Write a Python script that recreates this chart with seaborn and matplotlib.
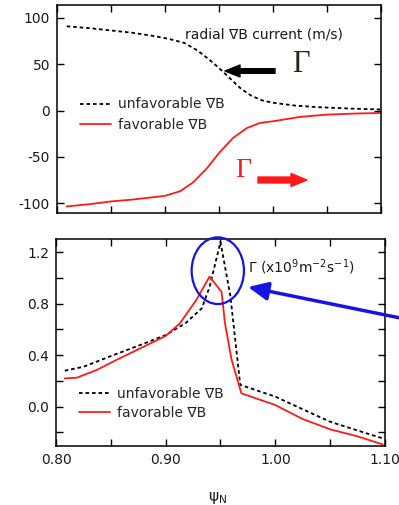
import matplotlib
matplotlib.use("Agg")
import matplotlib.pyplot as plt
from matplotlib.lines import Line2D
from matplotlib.patches import Ellipse
import seaborn as sns
import pandas as pd

# ---------------- data ----------------
# top panel: radial grad-B current (m/s)
psi_t_unfav = [0.809, 0.830, 0.850, 0.870, 0.890, 0.905, 0.918, 0.930, 0.940, 0.950, 0.960,
               0.970, 0.980, 0.990, 1.000, 1.020, 1.040, 1.070, 1.100]
unfav_t = [91, 89, 86.5, 84, 80.5, 77, 73, 65, 56, 46, 35, 24, 16, 11, 8.5, 5.5, 3.8, 2.3, 1.2]
psi_t_fav = [0.809, 0.830, 0.850, 0.870, 0.900, 0.914, 0.926, 0.939, 0.950, 0.963, 0.976,
             0.988, 1.000, 1.025, 1.050, 1.075, 1.100]
fav_t = [-103.4, -101, -98, -96, -92, -87, -77.5, -62, -45.8, -29.5, -18.7,
         -13.3, -11.5, -6.8, -4.3, -3.2, -2.5]

# bottom panel: Gamma (x10^9 m^-2 s^-1)
psi_b_unfav = [0.808, 0.825, 0.849, 0.877, 0.900, 0.918, 0.933, 0.940, 0.950, 0.959, 0.968, 1.000, 1.025, 1.050, 1.075, 1.098]
unfav_b = [0.28, 0.31, 0.39, 0.48, 0.557, 0.648, 0.765, 0.93, 1.28, 0.86, 0.17, 0.078, -0.02, -0.117, -0.185, -0.246]
psi_b_fav = [0.808, 0.819, 0.837, 0.855, 0.877, 0.900, 0.913, 0.928, 0.940, 0.951, 0.954, 0.960, 0.969, 1.000, 1.010, 1.025, 1.050, 1.074, 1.098]
fav_b = [0.22, 0.225, 0.285, 0.363, 0.454, 0.55, 0.648, 0.83, 1.011, 0.892, 0.653, 0.369, 0.104, 0.013, -0.031, -0.096, -0.176, -0.228, -0.293]

series_labels = ["unfavorable \u2207B", "favorable \u2207B"]
top_yticks = [-100, -50, 0, 50, 100]
bot_xticks = [0.80, 0.85, 0.90, 0.95, 1.00, 1.05, 1.10]
bot_xticklabels = ["0.80", "", "0.90", "", "1.00", "", "1.10"]
bot_yticks = [-0.2, 0.0, 0.2, 0.4, 0.6, 0.8, 1.0, 1.2]
bot_yticklabels = ["", "0.0", "", "0.4", "", "0.8", "", "1.2"]

# ---------------- style ----------------
sns.set_theme(style="ticks")
plt.rcParams["font.family"] = ["DejaVu Sans"]
plt.rcParams["axes.linewidth"] = 1.1
plt.rcParams["axes.edgecolor"] = "black"

RED = "#ff1a1a"
DASH = (2.0, 1.6)
LW = 1.3

W, H = 399, 505
fig = plt.figure(figsize=(W / 100, H / 100), dpi=100)
ax1 = fig.add_axes([57 / W, 1 - 213 / H, (381 - 57) / W, (213 - 5) / H])
ax2 = fig.add_axes([56 / W, 1 - 445.7 / H, (385 - 56) / W, (445.7 - 239) / H])

def draw(ax, xu, yu, xf, yf):
    du = pd.DataFrame({"psi": xu, "val": yu})
    df = pd.DataFrame({"psi": xf, "val": yf})
    sns.lineplot(data=du, x="psi", y="val", ax=ax, color="black", lw=LW,
                 dashes=False, errorbar=None)
    ax.lines[-1].set_dashes(DASH)
    sns.lineplot(data=df, x="psi", y="val", ax=ax, color=RED, lw=LW, errorbar=None)
    ax.set_xlabel("")
    ax.set_ylabel("")
    ax.tick_params(direction="in", top=True, right=True, length=5, width=1.0,
                   labelsize=10, labelcolor="#1a1a1a", pad=5, color="black")
    handles = [Line2D([], [], color="black", lw=LW, dashes=DASH),
               Line2D([], [], color=RED, lw=LW)]
    return handles

h = draw(ax1, psi_t_unfav, unfav_t, psi_t_fav, fav_t)
ax1.set_xlim(0.80, 1.10)
ax1.set_ylim(-110.5, 114)
ax1.set_xticks(bot_xticks)
ax1.set_xticklabels([])
ax1.set_yticks(top_yticks)
ax1.set_yticklabels([str(v) for v in top_yticks])
ax1.legend(h, series_labels, loc="center left", bbox_to_anchor=(0.071, 0.4736),
           frameon=False, borderpad=0, borderaxespad=0, handlelength=2.2,
           handletextpad=0.5, labelspacing=0.45, fontsize=10)

h = draw(ax2, psi_b_unfav, unfav_b, psi_b_fav, fav_b)
ax2.set_xlim(0.80, 1.10)
ax2.set_ylim(-0.303, 1.303)
ax2.set_xticks(bot_xticks)
ax2.set_xticklabels(bot_xticklabels)
ax2.set_yticks(bot_yticks)
ax2.set_yticklabels(bot_yticklabels)
ax2.legend(h, series_labels, loc="center left", bbox_to_anchor=(0.070, 0.204),
           frameon=False, borderpad=0, borderaxespad=0, handlelength=2.2,
           handletextpad=0.5, labelspacing=0.35, fontsize=10)

# ---------------- annotations ----------------
fig.text(185, H - 38.3, "radial \u2207B current (m/s)", transform=None,
         fontsize=10, ha="left", va="baseline", color="#1a1a1a")
fig.text(300.5, H - 71.7, "\u0393", transform=None, fontsize=22,
         family="Liberation Serif", ha="center", va="baseline", color="#1f2d0f")
fig.text(243, H - 176.7, "\u0393", transform=None, fontsize=20,
         family="Liberation Serif", ha="center", va="baseline", color=RED)
fig.text(248, H - 272.7, r"$\Gamma$ (x10$^{9}$m$^{-2}$s$^{-1}$)", transform=None,
         fontsize=10, ha="left", va="baseline", color="#1a1a1a")
fig.text(218, H - 498, r"$\mathregular{\psi_N}$", transform=None, fontsize=11,
         ha="center", va="center", color="#1a1a1a")

ax1.annotate("", xy=(225, H - 71), xytext=(275, H - 71), xycoords="figure pixels",
             textcoords="figure pixels", annotation_clip=False,
             arrowprops=dict(arrowstyle="simple,head_length=1.08,head_width=0.86,tail_width=0.33",
                             color="black", mutation_scale=10, shrinkA=0, shrinkB=0))
ax1.annotate("", xy=(307, H - 180), xytext=(258, H - 180), xycoords="figure pixels",
             textcoords="figure pixels", annotation_clip=False,
             arrowprops=dict(arrowstyle="simple,head_length=1.15,head_width=0.94,tail_width=0.43",
                             color=RED, mutation_scale=10, shrinkA=0, shrinkB=0))
ax2.annotate("", xy=(248, H - 287), xytext=(415, H - 321), xycoords="figure pixels",
             textcoords="figure pixels", annotation_clip=False,
             arrowprops=dict(arrowstyle="-|>,head_length=1.2,head_width=0.55",
                             color="#1414e6", lw=2.5, mutation_scale=10,
                             shrinkA=0, shrinkB=0))
ell = Ellipse((217.8 / W, 1 - 270.7 / H), 52.3 / W, 66.7 / H, transform=fig.transFigure,
              fill=False, edgecolor="#1414e6", lw=1.6, clip_on=False)
fig.patches.append(ell)

fig.savefig("out.png", dpi=100)
